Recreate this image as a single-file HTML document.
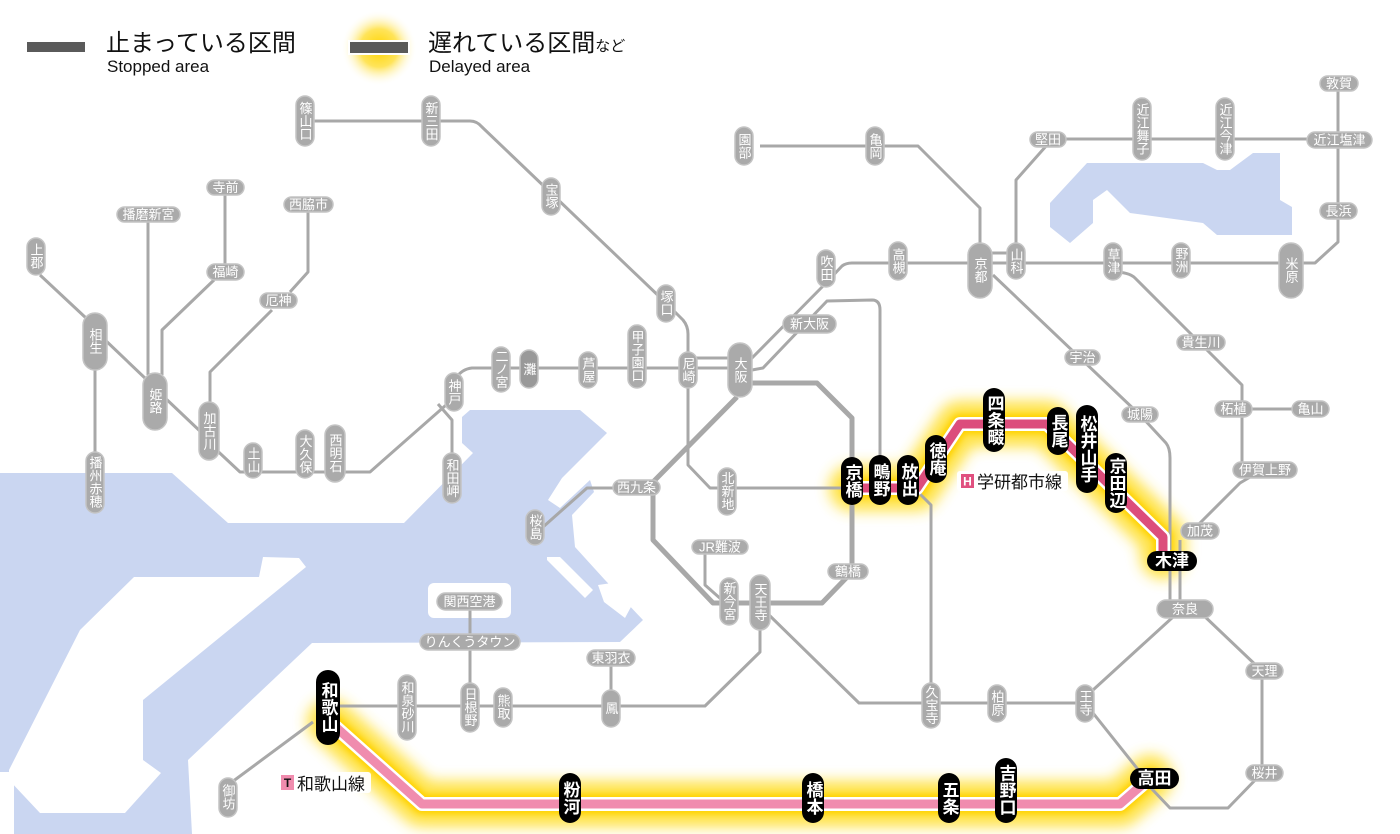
<!DOCTYPE html>
<html><head><meta charset="utf-8"><style>
html,body{margin:0;padding:0;background:#fff;width:1400px;height:834px;overflow:hidden}
svg{display:block}
text{font-family:"Liberation Sans","Noto Sans CJK JP",sans-serif}
.g{fill:#aaa;stroke:#c4c4c4;stroke-width:1.5}
.gt{fill:#fff;font-size:13px}
.bt{fill:#fff;font-size:17px;font-weight:bold}
.v{writing-mode:vertical-rl;text-anchor:middle;dominant-baseline:central}
.h{text-anchor:middle;dominant-baseline:central}
.ln{fill:none;stroke:#a8a8a8;stroke-width:3;stroke-linejoin:round}
.lt{fill:none;stroke:#a8a8a8;stroke-width:5;stroke-linejoin:round}
</style></head><body>
<svg width="1400" height="834" viewBox="0 0 1400 834" xmlns="http://www.w3.org/2000/svg">
<defs>
<filter id="bl" x="-20%" y="-20%" width="140%" height="140%"><feGaussianBlur stdDeviation="7"/></filter>
<filter id="bl2" x="-20%" y="-20%" width="140%" height="140%"><feGaussianBlur stdDeviation="3"/></filter>
<radialGradient id="rg"><stop offset="0" stop-color="#ffd400"/><stop offset="0.5" stop-color="#ffe45a"/><stop offset="1" stop-color="#fff" stop-opacity="0"/></radialGradient>
</defs>

<!-- water -->
<g fill="#cad6f1">
<path d="M0,473 L172,473 L228,523 L404,523 L473,453 L462,443 L462,417 L470,410 L580,410 L607,433 L562,478 L548,500 L560,508 L590,480 L594,492 L572,515 L575,547 L605,580 L643,620 L620,642 L312,643 L188,760 L192,834 L0,834 Z"/>
<path d="M1050,203 L1087,163 L1203,163 L1217,170 L1230,170 L1253,153 L1280,153 L1280,200 L1292,207 L1292,235 L1217,235 L1203,223 L1130,213 L1107,190 L1093,200 L1093,223 L1070,243 L1050,227 Z"/>
</g>
<g fill="#fff">
<path d="M263,557 L299,558 L306,567 L143,700 L143,760 L161,773 L125,813 L40,813 L9,780 L9,770 L80,630 L134,577 L259,577 Z"/>
<rect x="0" y="772" width="14" height="62"/>
<rect x="428" y="583" width="83" height="35" rx="6"/>
<path d="M547,557 L560,557 L593,590 L585,598 L547,560 Z"/>
<path d="M598,585 L612,583 L632,605 L625,618 L604,602 Z"/>
</g>

<!-- legend -->
<rect x="27" y="42" width="58" height="10" fill="#5a5a5a"/>
<text x="106" y="51" font-size="24" fill="#111">止まっている区間</text>
<text x="107" y="72" font-size="17" fill="#111">Stopped area</text>
<circle cx="379" cy="48" r="38" fill="url(#rg)"/>
<rect x="348" y="40" width="62" height="15" fill="#fff"/>
<rect x="350" y="42" width="58" height="11" fill="#5a5a5a"/>
<text x="428" y="51" font-size="24" fill="#111">遅れている区間<tspan font-size="15">など</tspan></text>
<text x="429" y="72" font-size="17" fill="#111">Delayed area</text>

<!-- delayed glow -->
<g fill="none" stroke-linejoin="round" stroke-linecap="round">
<path d="M852,488 L917,488 L960,424 L1047,424 L1163,537 L1163,556 M330,722 L422,804 L1120,804 L1150,778" stroke="#ffe034" stroke-width="46" filter="url(#bl)" opacity="0.9"/>
<path d="M852,488 L917,488 L960,424 L1047,424 L1163,537 L1163,556 M330,722 L422,804 L1120,804 L1150,778" stroke="#ffd200" stroke-width="20" filter="url(#bl2)"/>
</g>

<!-- lines -->
<g class="ln">
<path d="M305,121 L470,121 Q477,121 482,127 L666,303 L683,320 Q688,326 688,334 L688,465 L710,488 L852,488"/>
<path d="M740,368 L472,368 Q462,369 456,378 L454,398 L370,472 L240,472 L209,443"/>
<path d="M688,358 L740,358"/>
<path d="M438,404 L452,420 L452,455"/>
<path d="M202,433 L163,396"/>
<path d="M147,380 L103,338"/>
<path d="M86,318 L40,275"/>
<path d="M95,370 L95,452"/>
<path d="M148,222 L148,375"/>
<path d="M225,195 L225,264 M214,280 L162,330 L162,375"/>
<path d="M308,212 L308,272 L290,292 M272,310 L210,372 L210,402"/>
<path d="M750,360 L826,283 L842,266 Q846,263 852,263 L1315,263 L1338,242 L1338,82"/>
<path d="M752,370 L763,368 L827,301 L872,300 Q880,300 880,310 L880,460"/>
<path d="M613,488 L587,488 L543,527"/>
<path d="M705,554 L705,585 L722,600"/>
<path d="M760,630 L760,652 L705,706 L340,706"/>
<path d="M767,613 L859,703 L1085,703"/>
<path d="M918,492 L931,505 L931,690"/>
<path d="M1093,690 L1173,617"/>
<path d="M1093,713 L1140,772"/>
<path d="M1200,612 L1262,671 L1262,773 L1228,808 L1170,808 L1150,787"/>
<path d="M1170,569 L1170,601 M1180,540 L1180,601"/>
<path d="M993,275 L1140,415 L1166,443 Q1170,448 1170,458 L1170,550"/>
<path d="M1196,527 L1240,483 L1262,470"/>
<path d="M1242,470 L1242,385 L1200,343 L1135,278 Q1129,272 1113,272"/>
<path d="M1252,409 L1292,409"/>
<path d="M988,253 L1016,253"/>
<path d="M1016,243 L1016,180 L1047,145 M1047,139 L1338,139"/>
<path d="M760,146 L918,146 L980,208 L980,243"/>
<path d="M611,666 L611,690 M470,610 L470,683"/>
<path d="M232,782 L313,722"/>
</g>
<g class="lt">
<path d="M747,383 L817,383 L852,418 L852,460"/>
<path d="M852,505 L852,572 L822,603 L713,603 L653,540 L653,482 L737,397"/>
</g>

<!-- delayed lines -->
<g fill="none" stroke-linejoin="round">
<path d="M852,488 L917,488 L960,424 L1047,424 L1163,537 L1163,556" stroke="#fff" stroke-width="14"/>
<path d="M852,488 L917,488 L960,424 L1047,424 L1163,537 L1163,556" stroke="#dc4d7c" stroke-width="9"/>
<path d="M330,722 L422,804 L1120,804 L1150,778" stroke="#fff" stroke-width="14"/>
<path d="M330,722 L422,804 L1120,804 L1150,778" stroke="#f08cae" stroke-width="9"/>
</g>

<!-- line labels -->
<rect x="957" y="471" width="111" height="20" rx="3" fill="#fff" opacity="0.95"/>
<rect x="961" y="474" width="13" height="14" fill="#e0507f"/>
<text x="967.5" y="481.5" class="h" font-size="12" font-weight="bold" fill="#fff">H</text>
<text x="977" y="488" font-size="17" fill="#111">学研都市線</text>
<rect x="277" y="772" width="94" height="21" rx="3" fill="#fff" opacity="0.95"/>
<rect x="281" y="775" width="13" height="15" fill="#f08cae"/>
<text x="287.5" y="783" class="h" font-size="12" font-weight="bold" fill="#111">T</text>
<text x="297" y="790" font-size="17" fill="#111">和歌山線</text>

<!-- gray vertical small pills -->
<g>
<rect class="g" x="296" y="96" width="18" height="50" rx="9"/><text class="gt v" x="305" y="121">篠山口</text>
<rect class="g" x="422" y="96" width="18" height="50" rx="9"/><text class="gt v" x="431" y="121">新三田</text>
<rect class="g" x="542" y="178" width="18" height="37" rx="9"/><text class="gt v" x="551" y="196">宝塚</text>
<rect class="g" x="657" y="285" width="18" height="37" rx="9"/><text class="gt v" x="666" y="303">塚口</text>
<rect class="g" x="679" y="352" width="18" height="36" rx="9"/><text class="gt v" x="688" y="370">尼崎</text>
<rect class="g" x="492" y="347" width="18" height="45" rx="9"/><text class="gt v" x="501" y="369">二ノ宮</text>
<rect x="520" y="350" width="18" height="38" rx="9" fill="#999" stroke="#c4c4c4" stroke-width="1.5"/><text class="gt v" x="529" y="369">灘</text>
<rect class="g" x="579" y="352" width="18" height="36" rx="9"/><text class="gt v" x="588" y="370">芦屋</text>
<rect class="g" x="628" y="325" width="18" height="63" rx="9"/><text class="gt v" x="637" y="356">甲子園口</text>
<rect class="g" x="817" y="250" width="18" height="37" rx="9"/><text class="gt v" x="826" y="268">吹田</text>
<rect class="g" x="889" y="242" width="18" height="38" rx="9"/><text class="gt v" x="898" y="261">高槻</text>
<rect class="g" x="735" y="127" width="18" height="38" rx="9"/><text class="gt v" x="744" y="146">園部</text>
<rect class="g" x="866" y="127" width="18" height="38" rx="9"/><text class="gt v" x="875" y="146">亀岡</text>
<rect class="g" x="1007" y="243" width="18" height="36" rx="9"/><text class="gt v" x="1016" y="261">山科</text>
<rect class="g" x="1133" y="98" width="18" height="62" rx="9"/><text class="gt v" x="1142" y="129">近江舞子</text>
<rect class="g" x="1216" y="98" width="18" height="62" rx="9"/><text class="gt v" x="1225" y="129">近江今津</text>
<rect class="g" x="1104" y="243" width="18" height="37" rx="9"/><text class="gt v" x="1113" y="261">草津</text>
<rect class="g" x="1172" y="243" width="18" height="35" rx="9"/><text class="gt v" x="1181" y="260">野洲</text>
<rect class="g" x="27" y="238" width="18" height="37" rx="9"/><text class="gt v" x="36" y="256">上郡</text>
<rect class="g" x="86" y="452" width="18" height="61" rx="9"/><text class="gt v" x="95" y="482">播州赤穂</text>
<rect class="g" x="199" y="402" width="20" height="58" rx="10"/><text class="gt v" x="209" y="431" font-size="15">加古川</text>
<rect class="g" x="244" y="443" width="18" height="35" rx="9"/><text class="gt v" x="253" y="460">土山</text>
<rect class="g" x="296" y="430" width="18" height="48" rx="9"/><text class="gt v" x="305" y="454">大久保</text>
<rect class="g" x="325" y="425" width="20" height="57" rx="10"/><text class="gt v" x="335" y="453" font-size="15">西明石</text>
<rect class="g" x="445" y="373" width="18" height="38" rx="9"/><text class="gt v" x="454" y="392">神戸</text>
<rect class="g" x="443" y="453" width="18" height="50" rx="9"/><text class="gt v" x="452" y="478">和田岬</text>
<rect class="g" x="526" y="510" width="18" height="35" rx="9"/><text class="gt v" x="535" y="527">桜島</text>
<rect class="g" x="718" y="468" width="18" height="47" rx="9"/><text class="gt v" x="727" y="491">北新地</text>
<rect class="g" x="720" y="578" width="18" height="47" rx="9"/><text class="gt v" x="729" y="601">新今宮</text>
<rect class="g" x="922" y="683" width="18" height="45" rx="9"/><text class="gt v" x="931" y="705">久宝寺</text>
<rect class="g" x="988" y="685" width="18" height="37" rx="9"/><text class="gt v" x="997" y="703">柏原</text>
<rect class="g" x="1076" y="685" width="18" height="37" rx="9"/><text class="gt v" x="1085" y="703">王寺</text>
<rect class="g" x="398" y="675" width="18" height="65" rx="9"/><text class="gt v" x="407" y="707">和泉砂川</text>
<rect class="g" x="461" y="683" width="18" height="49" rx="9"/><text class="gt v" x="470" y="707">日根野</text>
<rect class="g" x="494" y="688" width="18" height="39" rx="9"/><text class="gt v" x="503" y="707">熊取</text>
<rect class="g" x="602" y="690" width="18" height="37" rx="9"/><text class="gt v" x="611" y="708">鳳</text>
<rect class="g" x="219" y="778" width="18" height="39" rx="9"/><text class="gt v" x="228" y="797">御坊</text>
</g>
<!-- gray big vertical -->
<g>
<rect class="g" x="83" y="313" width="24" height="57" rx="12"/><text class="gt v" x="95" y="341" font-size="18">相生</text>
<rect class="g" x="143" y="373" width="24" height="57" rx="12"/><text class="gt v" x="155" y="401" font-size="18">姫路</text>
<rect class="g" x="728" y="343" width="24" height="54" rx="12"/><text class="gt v" x="740" y="370" font-size="18">大阪</text>
<rect class="g" x="968" y="243" width="24" height="55" rx="12"/><text class="gt v" x="980" y="270" font-size="18">京都</text>
<rect class="g" x="1279" y="243" width="24" height="55" rx="12"/><text class="gt v" x="1291" y="270" font-size="18">米原</text>
<rect class="g" x="750" y="575" width="20" height="55" rx="10"/><text class="gt v" x="760" y="602" font-size="16">天王寺</text>
</g>
<!-- gray horizontal pills -->
<g>
<rect class="g" x="117" y="207" width="63" height="15" rx="7.5"/><text class="gt h" x="148.5" y="214.5">播磨新宮</text>
<rect class="g" x="207" y="180" width="37" height="15" rx="7.5"/><text class="gt h" x="225.5" y="187.5">寺前</text>
<rect class="g" x="207" y="264" width="37" height="16" rx="8"/><text class="gt h" x="225.5" y="272">福崎</text>
<rect class="g" x="284" y="197" width="49" height="15" rx="7.5"/><text class="gt h" x="308.5" y="204.5">西脇市</text>
<rect class="g" x="260" y="293" width="37" height="15" rx="7.5"/><text class="gt h" x="278.5" y="300.5">厄神</text>
<rect class="g" x="783" y="315" width="53" height="18" rx="9"/><text class="gt h" x="809.5" y="324" font-size="14">新大阪</text>
<rect class="g" x="613" y="480" width="47" height="15" rx="7.5"/><text class="gt h" x="636.5" y="487.5">西九条</text>
<rect class="g" x="692" y="540" width="56" height="14" rx="7"/><text class="gt h" x="720" y="547">JR難波</text>
<rect class="g" x="828" y="564" width="40" height="15" rx="7.5"/><text class="gt h" x="848" y="571.5">鶴橋</text>
<rect class="g" x="437" y="593" width="65" height="17" rx="8.5"/><text class="gt h" x="469.5" y="601.5">関西空港</text>
<rect class="g" x="420" y="634" width="100" height="16" rx="8"/><text class="gt h" x="470" y="642">りんくうタウン</text>
<rect class="g" x="587" y="650" width="48" height="16" rx="8"/><text class="gt h" x="611" y="658">東羽衣</text>
<rect class="g" x="1157" y="600" width="56" height="18" rx="9"/><text class="gt h" x="1185" y="609" font-size="16">奈良</text>
<rect class="g" x="1181" y="523" width="38" height="16" rx="8"/><text class="gt h" x="1200" y="531">加茂</text>
<rect class="g" x="1246" y="663" width="37" height="16" rx="8"/><text class="gt h" x="1264.5" y="671">天理</text>
<rect class="g" x="1246" y="765" width="37" height="16" rx="8"/><text class="gt h" x="1264.5" y="773">桜井</text>
<rect class="g" x="1233" y="462" width="64" height="16" rx="8"/><text class="gt h" x="1265" y="470">伊賀上野</text>
<rect class="g" x="1215" y="401" width="37" height="16" rx="8"/><text class="gt h" x="1233.5" y="409">柘植</text>
<rect class="g" x="1292" y="401" width="37" height="16" rx="8"/><text class="gt h" x="1310.5" y="409">亀山</text>
<rect class="g" x="1177" y="335" width="48" height="15" rx="7.5"/><text class="gt h" x="1201" y="342.5">貴生川</text>
<rect class="g" x="1065" y="350" width="35" height="15" rx="7.5"/><text class="gt h" x="1082.5" y="357.5">宇治</text>
<rect class="g" x="1122" y="407" width="36" height="15" rx="7.5"/><text class="gt h" x="1140" y="414.5">城陽</text>
<rect class="g" x="1030" y="132" width="36" height="15" rx="7.5"/><text class="gt h" x="1048" y="139.5">堅田</text>
<rect class="g" x="1307" y="132" width="65" height="16" rx="8"/><text class="gt h" x="1339.5" y="140">近江塩津</text>
<rect class="g" x="1320" y="76" width="38" height="15" rx="7.5"/><text class="gt h" x="1339" y="83.5">敦賀</text>
<rect class="g" x="1320" y="203" width="37" height="16" rx="8"/><text class="gt h" x="1338.5" y="211">長浜</text>
</g>
<!-- black pills -->
<g fill="#000">
<rect x="841" y="457" width="22" height="48" rx="11"/><text class="bt v" x="852" y="481">京橋</text>
<rect x="869" y="455" width="22" height="50" rx="11"/><text class="bt v" x="880" y="480">鴫野</text>
<rect x="897" y="455" width="22" height="50" rx="11"/><text class="bt v" x="908" y="480">放出</text>
<rect x="925" y="435" width="22" height="48" rx="11"/><text class="bt v" x="936" y="459">徳庵</text>
<rect x="983" y="388" width="22" height="64" rx="11"/><text class="bt v" x="994" y="420">四条畷</text>
<rect x="1047" y="407" width="22" height="48" rx="11"/><text class="bt v" x="1058" y="431">長尾</text>
<rect x="1076" y="405" width="22" height="88" rx="11"/><text class="bt v" x="1087" y="449">松井山手</text>
<rect x="1105" y="453" width="22" height="60" rx="11"/><text class="bt v" x="1116" y="483">京田辺</text>
<rect x="316" y="670" width="24" height="75" rx="12"/><text class="bt v" x="328" y="707" font-size="19">和歌山</text>
<rect x="559" y="773" width="22" height="50" rx="11"/><text class="bt v" x="570" y="798">粉河</text>
<rect x="802" y="773" width="22" height="50" rx="11"/><text class="bt v" x="813" y="798">橋本</text>
<rect x="938" y="773" width="22" height="50" rx="11"/><text class="bt v" x="949" y="798">五条</text>
<rect x="995" y="758" width="22" height="65" rx="11"/><text class="bt v" x="1006" y="790">吉野口</text>
<rect x="1147" y="551" width="50" height="20" rx="10"/><text class="bt h" x="1172" y="561">木津</text>
<rect x="1130" y="768" width="49" height="21" rx="10.5"/><text class="bt h" x="1154.5" y="778.5">高田</text>
</g>
</svg>
</body></html>
